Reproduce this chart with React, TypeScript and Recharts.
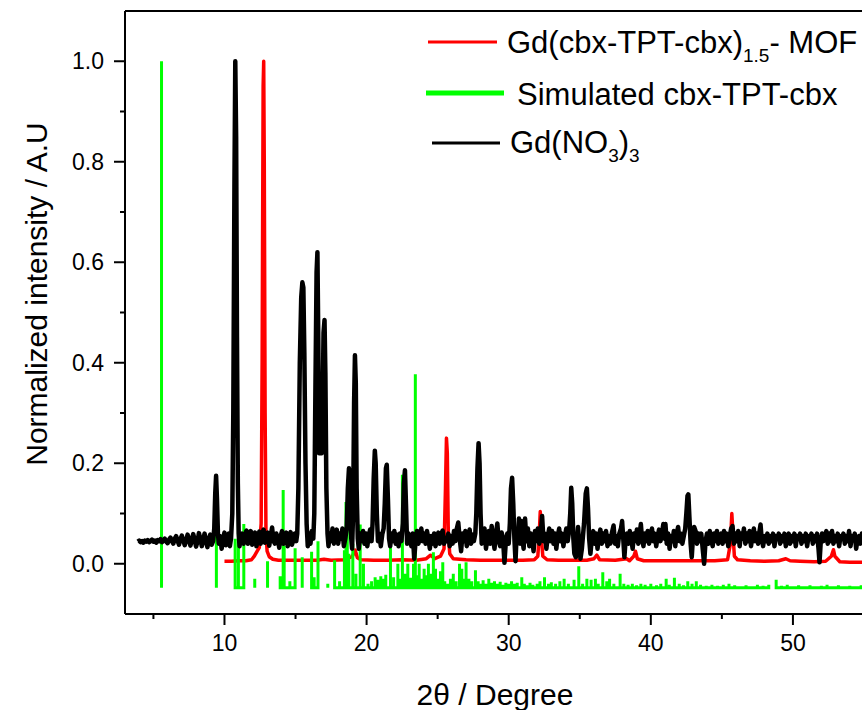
import React from 'react';
import { ComposedChart, Line, XAxis, YAxis, ReferenceLine, Customized } from 'recharts';

const FONT = '"Liberation Sans", Arial, Helvetica, sans-serif';

const xTicks = [5, 10, 15, 20, 25, 30, 35, 40, 45, 50];
const yTicks = [0, 0.1, 0.2, 0.3, 0.4, 0.5, 0.6, 0.7, 0.8, 0.9, 1.0];
const xDomain: [number, number] = [3, 54.86];
const yDomain: [number, number] = [-0.1, 1.1];

const seriesNames = ['Gd(cbx-TPT-cbx)1.5- MOF', 'Simulated cbx-TPT-cbx', 'Gd(NO3)3'];
const seriesColors = ['#FF0000', '#00FF00', '#000000'];

// Gd(cbx-TPT-cbx)1.5 - MOF (red)
const mofPattern: [number, number][] = [
  [10.0, .005], [10.5, .005], [11.0, .006], [11.5, .006], [11.9, .008], [12.1, .015], [12.3, .025],
  [12.45, .032], [12.58, .08], [12.65, .4], [12.72, .95], [12.76, 1.0], [12.8, .8], [12.86, .3],
  [12.92, .06], [13.0, .025], [13.15, .014], [13.4, .009], [13.8, .007], [14.5, .007], [15.5, .007],
  [16.5, .007], [17.0, .009], [17.5, .007], [18.5, .008], [19.0, .015], [19.2, .027], [19.35, .012],
  [19.6, .008], [20.5, .007], [21.5, .007], [22.5, .008], [23.5, .007], [24.2, .01], [24.5, .017],
  [24.8, .01], [25.2, .015], [25.45, .03], [25.55, .15], [25.62, .25], [25.68, .22], [25.75, .06],
  [25.85, .02], [26.1, .01], [27.0, .008], [28.0, .007], [29.0, .007], [30.0, .007], [31.0, .007],
  [31.8, .008], [32.05, .015], [32.15, .06], [32.22, .104], [32.3, .05], [32.4, .015], [32.7, .008],
  [33.5, .007], [34.5, .007], [35.5, .007], [36.0, .01], [36.2, .017], [36.4, .008], [37.5, .007],
  [38.3, .01], [38.5, .006], [38.8, .015], [38.92, .025], [39.05, .01], [39.5, .006], [40.5, .006],
  [41.5, .006], [42.5, .006], [43.5, .006], [44.5, .006], [45.4, .008], [45.6, .04], [45.7, .1],
  [45.78, .06], [45.88, .015], [46.1, .008], [47.0, .006], [48.0, .005], [49.0, .006], [49.5, .01],
  [49.8, .006], [50.5, .005], [51.5, .004], [52.3, .005], [52.7, .015], [52.85, .028], [52.95, .015],
  [53.3, .004], [54.0, .003], [55.0, .003],
];

// Simulated cbx-TPT-cbx sticks: [position, top]
const stickBase = -0.048;
const simulatedSticks: [number, number][] = [
  [5.57, 1.0], [9.43, .055], [10.75, .05], [10.98, .164], [11.36, .079], [12.13, -.03], [13.03, .005],
  [13.92, -.025], [14.13, .147], [14.2, .036], [14.6, -.035], [14.97, .031], [15.47, .013], [16.13, .024],
  [16.31, -.027], [16.58, .045], [17.27, -.04], [17.75, .007], [18.1, -.035], [18.44, .027], [18.55, .123],
  [18.64, .086], [18.75, .02], [19.03, .04], [19.25, -.02], [19.55, .078], [19.78, .0], [20.1, -.04],
  [20.35, -.035], [20.6, -.027], [20.8, -.032], [21.0, -.025], [21.2, -.03], [21.35, -.022], [21.68, .033],
  [21.9, -.027], [22.2, .0], [22.35, -.03], [22.52, .177], [22.7, -.02], [22.9, .0], [23.1, -.028],
  [23.3, .0], [23.43, .377], [23.55, -.023], [23.7, .0], [23.9, -.03], [24.05, -.01], [24.2, -.023],
  [24.35, .0], [24.5, -.02], [24.7, .023], [24.85, -.01], [25.0, -.03], [25.2, -.015], [25.36, .003],
  [25.5, -.035], [25.7, -.04], [25.9, -.03], [26.1, -.02], [26.3, -.035], [26.54, .0], [26.7, -.01],
  [26.85, -.03], [27.0, .003], [27.2, -.03], [27.4, -.035], [27.66, -.013], [27.85, -.035], [28.0, -.04],
  [28.2, -.033], [28.4, -.04], [28.6, -.03], [28.8, -.038], [29.0, -.035], [29.2, -.04], [29.4, -.036],
  [29.6, -.042], [29.8, -.038], [30.0, -.04], [30.2, -.035], [30.4, -.04], [30.6, -.038], [30.92, -.027],
  [31.1, -.04], [31.3, -.043], [31.5, -.038], [31.7, -.042], [32.0, -.04], [32.2, -.035], [32.52, -.027],
  [32.8, -.04], [33.0, -.037], [33.3, -.04], [33.6, -.035], [33.9, -.03], [34.2, -.04], [34.6, -.032],
  [34.93, -.005], [35.2, -.04], [35.5, -.03], [35.8, -.032], [36.1, -.03], [36.3, -.04], [36.62, -.017],
  [36.9, -.035], [37.1, -.03], [37.4, -.04], [37.84, -.02], [38.1, -.04], [38.4, -.042], [38.7, -.04],
  [39.0, -.043], [39.3, -.04], [39.6, -.042], [40.0, -.04], [40.4, -.043], [40.7, -.04], [41.08, -.03],
  [41.3, -.042], [41.66, -.028], [42.0, -.04], [42.3, -.043], [42.6, -.035], [42.9, -.04], [43.2, -.035],
  [43.5, -.042], [43.9, -.044], [44.3, -.042], [44.7, -.044], [45.1, -.042], [45.5, -.04], [45.9, -.043],
  [46.3, -.045], [46.7, -.043], [47.1, -.045], [47.5, -.042], [47.9, -.044], [48.3, -.042], [48.82, -.032],
  [49.2, -.044], [49.6, -.042], [50.0, -.045], [50.4, -.043], [50.8, -.045], [51.2, -.043], [51.6, -.045],
  [52.0, -.044], [52.4, -.042], [52.8, -.045], [53.2, -.043], [53.6, -.045], [54.0, -.044], [54.4, -.045],
  [54.8, -.043],
];

// Gd(NO3)3 (black)
const nitratePattern: [number, number][] = [
  [3.9, .044], [4.0, .046], [4.1, .043], [4.2, .045], [4.3, .042], [4.4, .046], [4.5, .044], [4.6, .047],
  [4.7, .043], [4.8, .045], [4.9, .048], [5.0, .044], [5.1, .046], [5.2, .042], [5.3, .047], [5.4, .045],
  [5.5, .049], [5.6, .043], [5.7, .046], [5.8, .05], [5.9, .044], [6.0, .041], [6.1, .048], [6.2, .052],
  [6.3, .045], [6.4, .04], [6.5, .05], [6.6, .055], [6.7, .046], [6.8, .038], [6.9, .049], [7.0, .056],
  [7.1, .047], [7.2, .037], [7.3, .045], [7.4, .058], [7.5, .05], [7.6, .036], [7.7, .046], [7.8, .059],
  [7.9, .048], [8.0, .034], [8.1, .044], [8.2, .061], [8.3, .05], [8.4, .035], [8.5, .047], [8.6, .06],
  [8.7, .044], [8.8, .033], [8.9, .05], [9.0, .058], [9.1, .038], [9.2, .045], [9.28, .07], [9.35, .14],
  [9.41, .175], [9.47, .13], [9.54, .06], [9.6, .04], [9.7, .055], [9.8, .03], [9.9, .05], [10.0, .062],
  [10.1, .037], [10.2, .05], [10.3, .06], [10.38, .035], [10.46, .05], [10.55, .1], [10.62, .3], [10.7, .75],
  [10.76, 1.0], [10.82, .85], [10.88, .45], [10.94, .16], [11.0, .06], [11.06, .035], [11.15, .055],
  [11.25, .06], [11.35, .04], [11.45, .058], [11.55, .066], [11.65, .04], [11.75, .052], [11.85, .065],
  [11.95, .038], [12.05, .055], [12.15, .062], [12.25, .035], [12.35, .05], [12.45, .064], [12.55, .04],
  [12.65, .056], [12.75, .068], [12.85, .042], [12.95, .05], [13.05, .062], [13.15, .036], [13.25, .055],
  [13.35, .072], [13.45, .045], [13.55, .04], [13.65, .06], [13.75, .05], [13.85, .032], [13.95, .055],
  [14.05, .065], [14.15, .04], [14.25, .05], [14.35, .062], [14.45, .035], [14.55, .052], [14.65, .063],
  [14.75, .038], [14.85, .048], [14.95, .06], [15.05, .045], [15.12, .06], [15.2, .15], [15.3, .4],
  [15.4, .53], [15.48, .56], [15.55, .55], [15.62, .42], [15.7, .2], [15.78, .08], [15.86, .035],
  [15.95, .06], [16.05, .04], [16.15, .065], [16.25, .05], [16.32, .1], [16.4, .35], [16.48, .58],
  [16.54, .62], [16.6, .45], [16.66, .22], [16.72, .28], [16.78, .33], [16.84, .22], [16.9, .3],
  [16.97, .46], [17.04, .485], [17.1, .38], [17.17, .15], [17.25, .06], [17.32, .035], [17.4, .06],
  [17.5, .045], [17.6, .07], [17.7, .04], [17.8, .055], [17.9, .068], [18.0, .04], [18.1, .06], [18.2, .05],
  [18.3, .07], [18.4, .035], [18.5, .05], [18.6, .07], [18.68, .15], [18.76, .19], [18.84, .15],
  [18.92, .05], [18.98, .03], [19.05, .1], [19.12, .32], [19.18, .415], [19.24, .36], [19.3, .15],
  [19.38, .05], [19.45, .03], [19.55, .06], [19.65, .045], [19.75, .065], [19.85, .04], [19.95, .06],
  [20.05, .035], [20.15, .055], [20.25, .068], [20.35, .045], [20.42, .08], [20.5, .17], [20.58, .225],
  [20.64, .2], [20.72, .1], [20.8, .045], [20.9, .06], [21.0, .035], [21.1, .058], [21.2, .07],
  [21.28, .12], [21.36, .19], [21.42, .197], [21.5, .13], [21.58, .05], [21.66, .035], [21.75, .06],
  [21.85, .045], [21.95, .065], [22.05, .04], [22.15, .058], [22.25, .035], [22.35, .06], [22.45, .045],
  [22.55, .08], [22.62, .16], [22.7, .186], [22.77, .12], [22.85, .04], [22.95, .06], [23.05, .05],
  [23.15, .035], [23.25, .06], [23.35, .01], [23.45, .045], [23.55, .065], [23.65, .04], [23.75, .055],
  [23.85, .07], [23.95, .045], [24.05, .06], [24.15, .04], [24.25, .065], [24.35, .05], [24.45, .03],
  [24.55, .055], [24.65, .04], [24.75, .06], [24.85, .035], [24.95, .05], [25.05, .062], [25.15, .04],
  [25.25, .058], [25.35, .066], [25.45, .04], [25.55, .05], [25.65, .045], [25.75, .06], [25.85, .035],
  [25.95, .055], [26.05, .04], [26.15, .065], [26.25, .045], [26.35, .07], [26.45, .082], [26.55, .05],
  [26.65, .025], [26.75, .06], [26.85, .045], [26.95, .065], [27.05, .035], [27.15, .05], [27.25, .068],
  [27.35, .04], [27.45, .058], [27.55, .045], [27.65, .06], [27.72, .1], [27.8, .19], [27.88, .24],
  [27.95, .2], [28.02, .1], [28.1, .04], [28.2, .055], [28.3, .07], [28.4, .03], [28.5, .05], [28.6, .065],
  [28.7, .04], [28.8, .075], [28.9, .05], [29.0, .03], [29.1, .06], [29.2, .08], [29.3, .045], [29.4, .035],
  [29.5, .062], [29.6, .05], [29.7, .002], [29.8, .045], [29.9, .06], [30.0, .04], [30.08, .08],
  [30.16, .15], [30.24, .171], [30.32, .12], [30.4, .05], [30.48, .005], [30.56, .06], [30.64, .045],
  [30.72, .09], [30.8, .04], [30.88, .085], [30.96, .05], [31.05, .03], [31.15, .09], [31.25, .045],
  [31.35, .07], [31.45, .035], [31.55, .06], [31.65, .05], [31.75, .025], [31.85, .065], [31.95, .045],
  [32.05, .07], [32.15, .04], [32.25, .06], [32.35, .095], [32.45, .045], [32.55, .06], [32.65, .03],
  [32.75, .055], [32.85, .07], [32.95, .045], [33.05, .065], [33.15, .04], [33.25, .06], [33.35, .03],
  [33.45, .055], [33.55, .07], [33.65, .045], [33.75, .06], [33.85, .035], [33.95, .055], [34.05, .07],
  [34.15, .045], [34.25, .065], [34.33, .1], [34.4, .151], [34.47, .12], [34.55, .05], [34.62, .02],
  [34.72, .013], [34.8, .045], [34.88, .073], [34.96, .04], [35.05, .01], [35.15, .03], [35.3, .08],
  [35.42, .14], [35.5, .15], [35.58, .11], [35.66, .05], [35.75, .02], [35.85, .05], [35.95, .065],
  [36.05, .04], [36.15, .06], [36.25, .03], [36.35, .055], [36.45, .068], [36.55, .04], [36.65, .06],
  [36.75, .045], [36.85, .065], [36.95, .035], [37.05, .055], [37.15, .04], [37.25, .06], [37.38, .076],
  [37.48, .04], [37.58, .055], [37.68, .035], [37.78, .06], [37.9, .07], [37.98, .085], [38.06, .05],
  [38.14, .013], [38.22, .045], [38.32, .06], [38.42, .04], [38.52, .065], [38.62, .05], [38.72, .03],
  [38.82, .06], [38.92, .045], [39.02, .068], [39.12, .04], [39.22, .06], [39.3, .079], [39.38, .05],
  [39.48, .035], [39.58, .06], [39.68, .045], [39.78, .065], [39.88, .04], [39.98, .055], [40.08, .07],
  [40.18, .045], [40.28, .06], [40.38, .035], [40.48, .055], [40.58, .068], [40.68, .045], [40.78, .06],
  [40.88, .079], [40.96, .05], [41.03, .079], [41.12, .04], [41.22, .06], [41.32, .03], [41.42, .055],
  [41.52, .045], [41.62, .065], [41.72, .035], [41.82, .06], [41.92, .073], [42.02, .045], [42.12, .06],
  [42.22, .04], [42.32, .055], [42.42, .07], [42.5, .1], [42.58, .135], [42.64, .138], [42.72, .09],
  [42.8, .04], [42.88, .013], [42.96, .05], [43.05, .073], [43.15, .065], [43.25, .04], [43.35, .06],
  [43.45, .045], [43.55, .06], [43.65, .03], [43.75, .0], [43.85, .045], [43.95, .06], [44.05, .04],
  [44.15, .065], [44.25, .05], [44.35, .035], [44.45, .06], [44.55, .045], [44.65, .065], [44.75, .04],
  [44.85, .055], [44.95, .06], [45.05, .04], [45.15, .065], [45.25, .045], [45.35, .06], [45.45, .035],
  [45.55, .055], [45.65, .07], [45.75, .075], [45.85, .04], [45.95, .06], [46.05, .045], [46.15, .065],
  [46.25, .035], [46.35, .06], [46.45, .05], [46.55, .07], [46.65, .04], [46.75, .06], [46.85, .045],
  [46.95, .065], [47.05, .035], [47.15, .055], [47.25, .07], [47.35, .045], [47.45, .06], [47.55, .04],
  [47.65, .065], [47.72, .078], [47.8, .05], [47.9, .035], [48.0, .055], [48.1, .045], [48.2, .06],
  [48.3, .04], [48.4, .055], [48.5, .045], [48.6, .06], [48.7, .035], [48.8, .055], [48.9, .05], [49.0, .06],
  [49.1, .04], [49.2, .055], [49.3, .045], [49.4, .06], [49.5, .035], [49.6, .05], [49.7, .06], [49.8, .04],
  [49.9, .055], [50.0, .045], [50.1, .06], [50.2, .035], [50.3, .055], [50.4, .05], [50.5, .06], [50.6, .04],
  [50.7, .055], [50.8, .045], [50.9, .06], [51.0, .035], [51.1, .055], [51.2, .05], [51.3, .06], [51.4, .04],
  [51.5, .055], [51.6, .045], [51.7, .06], [51.8, .03], [51.87, .003], [51.95, .04], [52.05, .06],
  [52.15, .045], [52.25, .055], [52.35, .065], [52.45, .04], [52.55, .06], [52.65, .045], [52.75, .065],
  [52.85, .04], [52.95, .055], [53.05, .045], [53.15, .06], [53.25, .035], [53.35, .055], [53.45, .05],
  [53.55, .06], [53.65, .04], [53.75, .055], [53.85, .045], [53.95, .065], [54.05, .035], [54.15, .055],
  [54.25, .05], [54.35, .06], [54.45, .03], [54.55, .05], [54.65, .055], [54.75, .04], [54.85, .06],
  [55.0, .045],
];

type Row = { x: number; y: number | null };
const toRows = (pts: [number, number][]): Row[] => pts.map(([x, y]) => ({ x, y }));

const stickRows = (sticks: [number, number][], base: number): Row[] => {
  const rows: Row[] = [];
  sticks.forEach(([x, h], i) => {
    if (i > 0 && x - sticks[i - 1][0] > 0.45) rows.push({ x: (x + sticks[i - 1][0]) / 2, y: null });
    rows.push({ x, y: base }, { x, y: h }, { x, y: base });
  });
  return rows;
};

const mofRows = toRows(mofPattern);
const simRows = stickRows(simulatedSticks, stickBase);
const nitrateRows = toRows(nitratePattern);

const XTick = (props: any) => {
  const { x, y, payload } = props;
  const v = payload.value as number;
  const major = v % 10 === 0;
  return (
    <g>
      <line x1={x} x2={x} y1={y - 21} y2={y - 21 + (major ? 11 : 5)} stroke="#000" strokeWidth={2} />
      {major && (
        <text x={x} y={y} dy="0.71em" textAnchor="middle" fontSize={23} fontFamily={FONT} fill="#000">
          {v}
        </text>
      )}
    </g>
  );
};

const YTick = (props: any) => {
  const { x, y, payload } = props;
  const v = payload.value as number;
  const major = Math.round(v * 10) % 2 === 0;
  return (
    <g>
      <line x1={x + 21 - (major ? 11 : 5)} x2={x + 21} y1={y} y2={y} stroke="#000" strokeWidth={2} />
      {major && (
        <text x={x} y={y} dy="0.355em" textAnchor="end" fontSize={23} fontFamily={FONT} fill="#000">
          {v.toFixed(1)}
        </text>
      )}
    </g>
  );
};

const Decorations = () => {
  const rows = [
    { y: 42, x1: 428, x2: 497, w: 3, tx: 507, ty: 53 },
    { y: 93, x1: 426, x2: 504, w: 5, tx: 517, ty: 105 },
    { y: 143, x1: 432, x2: 500, w: 3, tx: 510, ty: 153 },
  ];
  const sub = (t: string) => (
    <tspan fontSize={19} dy={9}>{t}</tspan>
  );
  const up = (t: string) => <tspan dy={-9}>{t}</tspan>;
  const labels = [
    <>{'Gd(cbx-TPT-cbx)'}{sub('1.5')}{up('- MOF')}</>,
    <>{seriesNames[1]}</>,
    <>{'Gd(NO'}{sub('3')}{up(')')}{sub('3')}</>,
  ];
  return (
    <g fontFamily={FONT} fill="#000">
      {rows.map((r, i) => (
        <g key={i}>
          <line x1={r.x1} x2={r.x2} y1={r.y} y2={r.y} stroke={seriesColors[i]} strokeWidth={r.w} />
          <text x={r.tx} y={r.ty} fontSize={31}>{labels[i]}</text>
        </g>
      ))}
      <text x={495} y={705} textAnchor="middle" fontSize={30}>2θ / Degree</text>
      <text x={47} y={294} textAnchor="middle" fontSize={30} transform="rotate(-90 47 294)">
        Normalized intensity / A.U
      </text>
    </g>
  );
};

export default function App() {
  return (
    <div style={{ position: 'absolute', left: 0, top: 0, width: 862, height: 710, background: '#fff' }}>
      <ComposedChart width={862} height={710} margin={{ top: 11, right: 0, bottom: 0, left: 0 }}>
        <XAxis
          dataKey="x"
          type="number"
          domain={xDomain}
          allowDataOverflow
          ticks={xTicks}
          interval={0}
          height={96}
          tickSize={11}
          tickMargin={10}
          tickLine={false}
          axisLine={{ stroke: '#000', strokeWidth: 2 }}
          tick={<XTick />}
        />
        <YAxis
          type="number"
          domain={yDomain}
          allowDataOverflow
          ticks={yTicks}
          interval={0}
          width={125}
          tickSize={11}
          tickMargin={10}
          tickLine={false}
          axisLine={{ stroke: '#000', strokeWidth: 2 }}
          tick={<YTick />}
        />
        <ReferenceLine y={1.1} stroke="#000" strokeWidth={2} />
        <Line data={mofRows} dataKey="y" name={seriesNames[0]} stroke={seriesColors[0]} strokeWidth={3.5}
          dot={false} isAnimationActive={false} type="linear" strokeLinejoin="round" />
        <Line data={simRows} dataKey="y" name={seriesNames[1]} stroke={seriesColors[1]} strokeWidth={3}
          dot={false} isAnimationActive={false} type="linear" connectNulls={false} />
        <Line data={nitrateRows} dataKey="y" name={seriesNames[2]} stroke={seriesColors[2]} strokeWidth={4.5}
          dot={false} isAnimationActive={false} type="linear" strokeLinejoin="round" />
        <Customized component={Decorations} />
      </ComposedChart>
    </div>
  );
}
